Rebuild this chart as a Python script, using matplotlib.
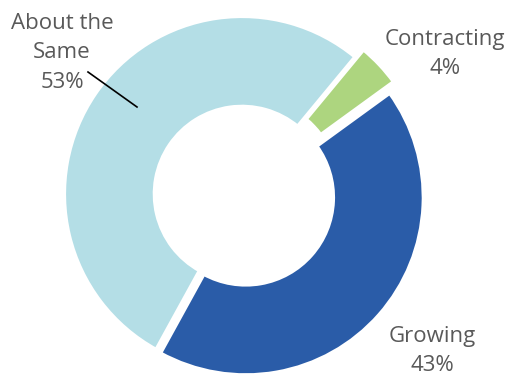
import matplotlib
matplotlib.use("Agg")
import matplotlib.pyplot as plt

categories = ["Growing", "About the Same", "Contracting"]
values = [43, 53, 4]
label_texts = ["Growing\n43%", "About the\nSame\n53%", "Contracting\n4%"]
colors = ["#2A5CA8", "#B4DEE6", "#ADD57F"]

W, H = 507, 375
fig = plt.figure(figsize=(W / 100, H / 100), dpi=100)
ax = fig.add_axes([0, 0, 1, 1])

cx, cy, R = 242, H - 194, 178
# explode is in data units (pixels here)
wedges, _ = ax.pie(values, colors=colors, startangle=36, counterclock=False,
                   center=(cx, cy), radius=R, explode=[5, 0, 11],
                   wedgeprops=dict(width=R * 0.51, edgecolor="white", linewidth=3),
                   frame=True)
ax.set_xlim(0, W)
ax.set_ylim(0, H)
ax.set_aspect("equal")
ax.axis("off")

fkw = dict(fontsize=16, color="#595959", ha="center", va="center",
           family=["Open Sans", "DejaVu Sans"], linespacing=1.55)
ax.text(62, H - 53, label_texts[1], **fkw)
ax.text(445, H - 54, label_texts[2], **fkw)
ax.text(432, H - 351, label_texts[0], **fkw)
ax.plot([88, 137], [H - 72, H - 107], color="black", lw=1.2)

fig.savefig("out.png", dpi=100)
